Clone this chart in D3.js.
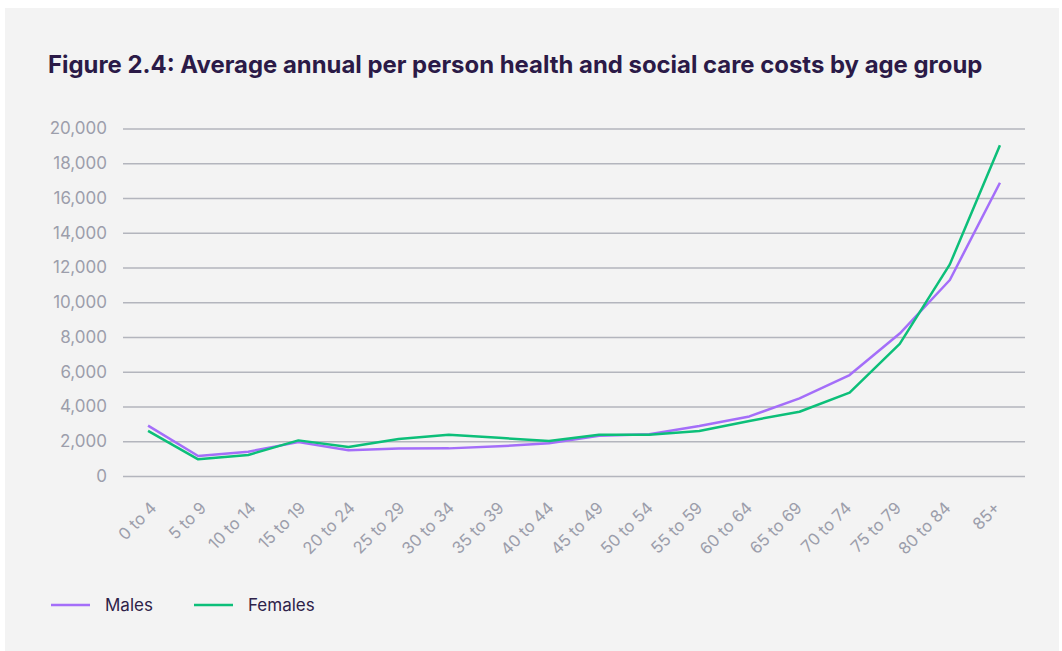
<!DOCTYPE html>
<html>
<head>
<meta charset="utf-8">
<script src="https://cdn.jsdelivr.net/npm/d3@7"></script>
<style>
  html, body { margin: 0; padding: 0; background: #ffffff; }
  svg { display: block; }
</style>
</head>
<body>
<svg id="chart" width="1062" height="651"></svg>
<script>
// Age groups and average annual per-person cost (£) by sex
const ageGroups = ["0 to 4", "5 to 9", "10 to 14", "15 to 19", "20 to 24", "25 to 29", "30 to 34",
  "35 to 39", "40 to 44", "45 to 49", "50 to 54", "55 to 59", "60 to 64", "65 to 69",
  "70 to 74", "75 to 79", "80 to 84", "85+"];
const males =   [2900, 1150, 1400, 1950, 1480, 1580, 1590, 1710, 1880, 2320, 2400, 2880, 3430, 4470, 5810, 8200, 11280, 16880];
const females = [2600,  960, 1210, 2050, 1670, 2130, 2380, 2200, 2010, 2380, 2380, 2590, 3170, 3700, 4800, 7600, 12180, 19030];
const yTicks = [0, 2000, 4000, 6000, 8000, 10000, 12000, 14000, 16000, 18000, 20000];
const seriesNames = ["Males", "Females"];
const seriesColors = ["#a46ef9", "#0cbf79"];

const svg = d3.select("#chart");
const fontFamily = "Inter, 'Noto Sans', sans-serif";

// panel background
svg.append("rect").attr("x", 5).attr("y", 8).attr("width", 1054).attr("height", 643).attr("fill", "#f3f3f3");

// title
const title = svg.append("text")
  .attr("x", 48).attr("y", 73)
  .attr("font-family", fontFamily).attr("font-weight", 700)
  .attr("font-size", 22).attr("fill", "#2b1a47")
  .text("Figure 2.4: Average annual per person health and social care costs by age group");
// fit title to its line width
const tw = title.node().getComputedTextLength();
title.attr("font-size", 22 * 935 / tw);

const plot = { left: 123, right: 1025, top: 128.5, bottom: 476 };

const x = d3.scaleBand().domain(ageGroups).range([plot.left, plot.right]).paddingInner(0).paddingOuter(0);
const y = d3.scaleLinear().domain([0, 20000]).range([plot.bottom, plot.top]);
const xc = d => x(d) + x.bandwidth() / 2;
// rotated category labels sit on a slightly tighter spacing than the data points
const xLabel = d3.scalePoint().domain(ageGroups).range([148, 992]);

// y axis with gridlines
const yAxis = svg.append("g")
  .attr("transform", `translate(${plot.left},0)`)
  .call(d3.axisLeft(y).tickValues(yTicks).tickFormat(d3.format(",")).tickSize(-(plot.right - plot.left)).tickPadding(16));
yAxis.select(".domain").remove();
yAxis.selectAll(".tick line").attr("stroke", "#b3b5bd").attr("stroke-width", 1.5);
yAxis.selectAll(".tick text")
  .attr("font-family", fontFamily).attr("font-size", 17).attr("fill", "#9c9eab");

// x axis labels, rotated
const xAxis = svg.append("g")
  .attr("transform", `translate(0,${plot.bottom})`)
  .call(d3.axisBottom(xLabel).tickSize(0).tickPadding(0));
xAxis.select(".domain").remove();
xAxis.selectAll(".tick text")
  .attr("font-family", fontFamily).attr("font-size", 16.5).attr("fill", "#9c9eab")
  .attr("text-anchor", "end")
  .attr("y", 0).attr("dy", 0)
  .attr("transform", "translate(9,33) rotate(-45)");

// lines
const line = d3.line().x((d, i) => xc(ageGroups[i])).y(d => y(d));
[males, females].forEach((vals, k) => {
  svg.append("path")
    .datum(vals)
    .attr("fill", "none")
    .attr("stroke", seriesColors[k])
    .attr("stroke-width", 2.5)
    .attr("stroke-linejoin", "round")
    .attr("d", line);
});

// legend
const legendX = [51, 194];
const legend = svg.append("g");
seriesNames.forEach((name, k) => {
  legend.append("line")
    .attr("x1", legendX[k]).attr("x2", legendX[k] + 39)
    .attr("y1", 605).attr("y2", 605)
    .attr("stroke", seriesColors[k]).attr("stroke-width", 2.5);
  legend.append("text")
    .attr("x", legendX[k] + 54).attr("y", 605).attr("dy", "0.35em")
    .attr("font-family", fontFamily).attr("font-size", 17).attr("fill", "#2e2249")
    .text(name);
});
</script>
</body>
</html>
